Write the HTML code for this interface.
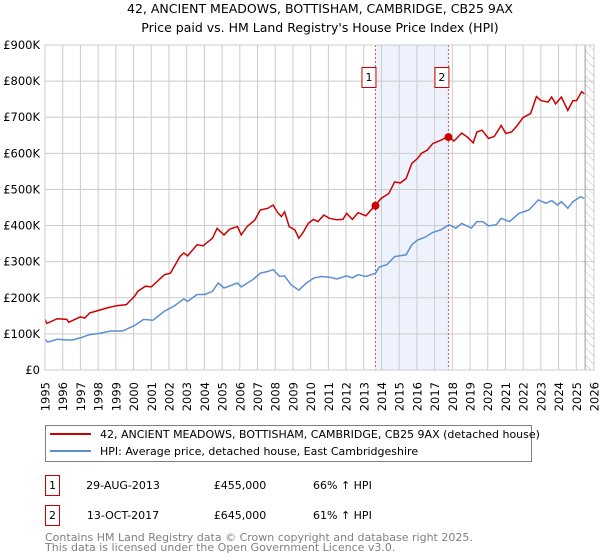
<!DOCTYPE html>
<html><head><meta charset="utf-8"><style>
body{margin:0;background:#fff;font-family:"DejaVu Sans","Liberation Sans",sans-serif;}
svg{display:block}
</style></head><body>
<svg id="chart" width="600" height="560" xmlns="http://www.w3.org/2000/svg">
<text x="320" y="13" text-anchor="middle" font-size="12.5" fill="#000">42, ANCIENT MEADOWS, BOTTISHAM, CAMBRIDGE, CB25 9AX</text>
<text x="320" y="32" text-anchor="middle" font-size="12.5" fill="#000">Price paid vs. HM Land Registry's House Price Index (HPI)</text>
<g id="plot"></g>
<g>
<rect x="45.5" y="425.5" width="486" height="36" fill="#fff" stroke="#808080"/>
<line x1="50" y1="434" x2="91" y2="434" stroke="#cc0000" stroke-width="2"/>
<text x="100" y="438" font-size="11">42, ANCIENT MEADOWS, BOTTISHAM, CAMBRIDGE, CB25 9AX (detached house)</text>
<line x1="50" y1="451" x2="91" y2="451" stroke="#5b8fd4" stroke-width="2"/>
<text x="100" y="455" font-size="11">HPI: Average price, detached house, East Cambridgeshire</text>
</g>
<g>
<rect x="45.5" y="475.5" width="14" height="20" fill="#fff" stroke="#cc0000"/>
<text x="52.5" y="489" font-size="11" text-anchor="middle">1</text>
<text x="123" y="489" font-size="11" text-anchor="middle">29-AUG-2013</text>
<text x="240" y="489" font-size="11" text-anchor="middle">£455,000</text>
<text x="313" y="489" font-size="11">66% ↑ HPI</text>
<rect x="45.5" y="505.5" width="14" height="20" fill="#fff" stroke="#cc0000"/>
<text x="52.5" y="519" font-size="11" text-anchor="middle">2</text>
<text x="123" y="519" font-size="11" text-anchor="middle">13-OCT-2017</text>
<text x="240" y="519" font-size="11" text-anchor="middle">£645,000</text>
<text x="313" y="519" font-size="11">61% ↑ HPI</text>
</g>
<text x="45" y="541" font-size="11" fill="#808080">Contains HM Land Registry data © Crown copyright and database right 2025.</text>
<text x="45" y="551" font-size="11" fill="#808080">This data is licensed under the Open Government Licence v3.0.</text>
</svg>
<script>
const yTicks=[0,100,200,300,400,500,600,700,800,900];
const yTickLabels=["£0","£100K","£200K","£300K","£400K","£500K","£600K","£700K","£800K","£900K"];
const xYears=[1995,1996,1997,1998,1999,2000,2001,2002,2003,2004,2005,2006,2007,2008,2009,2010,2011,2012,2013,2014,2015,2016,2017,2018,2019,2020,2021,2022,2023,2024,2025,2026];
const redDates=[1995.00,1995.11,1995.69,1996.23,1996.34,1996.99,1997.25,1997.53,1998.03,1998.51,1999.05,1999.59,2000.06,2000.24,2000.67,2001.00,2001.75,2002.08,2002.62,2002.84,2003.05,2003.59,2003.92,2004.46,2004.72,2005.11,2005.43,2005.87,2006.08,2006.41,2006.84,2007.16,2007.60,2007.88,2008.14,2008.35,2008.53,2008.79,2009.11,2009.33,2009.55,2009.87,2010.15,2010.41,2010.74,2011.06,2011.49,2011.82,2012.03,2012.36,2012.68,2013.12,2013.66,2013.98,2014.42,2014.74,2015.06,2015.39,2015.71,2016.04,2016.26,2016.58,2016.90,2017.34,2017.81,2018.09,2018.53,2018.85,2019.18,2019.39,2019.68,2020.04,2020.37,2020.76,2021.02,2021.34,2021.67,2021.99,2022.42,2022.75,2023.01,2023.40,2023.61,2023.83,2024.16,2024.52,2024.81,2025.02,2025.30,2025.45];
const redValues=[140,129,142,140,132,147,144,158,165,172,178,181,204,218,232,230,264,268,314,324,316,347,344,365,392,374,390,397,374,397,415,443,448,457,436,425,438,397,388,365,379,406,417,411,429,420,416,417,434,417,436,427,457,475,489,521,518,530,572,586,600,609,627,636,647,634,656,645,629,659,664,641,647,677,655,659,677,699,710,757,746,742,756,737,756,719,746,746,771,765];
const blueDates=[1995.00,1995.15,1995.69,1996.23,1996.56,1996.99,1997.53,1998.03,1998.72,1999.37,2000.06,2000.56,2001.10,2001.75,2002.29,2002.84,2003.05,2003.59,2004.03,2004.46,2004.78,2005.11,2005.87,2006.08,2006.73,2007.16,2007.60,2007.88,2008.25,2008.51,2008.90,2009.33,2009.76,2010.19,2010.63,2011.06,2011.49,2012.03,2012.36,2012.68,2013.12,2013.66,2013.87,2014.31,2014.74,2015.39,2015.71,2016.04,2016.47,2016.90,2017.34,2017.81,2018.20,2018.53,2019.07,2019.39,2019.72,2020.04,2020.48,2020.76,2021.23,2021.77,2022.32,2022.86,2023.29,2023.61,2023.94,2024.16,2024.52,2024.81,2025.24,2025.45];
const blueValues=[85,77,85,83,83,89,98,101,108,108,123,140,138,163,177,197,190,209,209,218,241,227,241,230,250,268,273,278,259,261,236,221,241,255,259,257,252,261,255,264,259,268,285,292,314,319,347,360,368,381,388,402,393,406,393,411,411,399,402,420,411,434,443,471,462,469,457,466,448,466,480,475];
const saleDates=[2013.66,2017.78];
const saleValues=[455,645];
const saleLabels=["1","2"];
const hatchStart=2025.5;

const NS="http://www.w3.org/2000/svg";
const L=45,R=594,T=45,B=370,x0=1995,x1=2026,vmax=900;
const X=v=>L+(v-x0)/(x1-x0)*(R-L);
const Y=v=>B-v/vmax*(B-T);
const g=document.getElementById('plot');
function el(tag,attrs,parent){const e=document.createElementNS(NS,tag);for(const k in attrs)e.setAttribute(k,attrs[k]);(parent||g).appendChild(e);return e;}
let sh=el('rect',{x:X(saleDates[0]),y:T,width:X(saleDates[1])-X(saleDates[0]),height:B-T,fill:'#eef2fc'});


const defs=el('defs',{});
const pat=el('pattern',{id:'hatch',width:6,height:6,patternUnits:'userSpaceOnUse',patternTransform:'rotate(-45)'},defs);
el('line',{x1:0,y1:0,x2:0,y2:6,stroke:'#bbb','stroke-width':1},pat);
let hr=el('rect',{x:X(hatchStart),y:T,width:R-X(hatchStart),height:B-T,fill:'url(#hatch)'});


xYears.forEach(yr=>{
  let ln=el('line',{x1:X(yr),y1:T,x2:X(yr),y2:B,stroke:'#cccccc','stroke-width':1});
  
  
  let t=el('text',{x:0,y:0,'font-size':11.5,'text-anchor':'end',transform:`translate(${X(yr)+4.5},${B+12}) rotate(-90)`});
  t.textContent=yr;
  
  
});
yTicks.forEach((v,i)=>{
  let ln=el('line',{x1:L,y1:Y(v),x2:R,y2:Y(v),stroke:'#cccccc','stroke-width':1});
  
  
  let t=el('text',{x:L-5,y:Y(v)+4,'font-size':11.5,'text-anchor':'end'});
  t.textContent=yTickLabels[i];
  
  
});
let hl=el('line',{x1:X(hatchStart),y1:T,x2:X(hatchStart),y2:B,stroke:'#999','stroke-width':1});


saleDates.forEach((d,i)=>{
  let ln=el('line',{x1:X(d),y1:T,x2:X(d),y2:B,stroke:'#e05050','stroke-width':1,'stroke-dasharray':'2,2'});
  
  
  let bx=el('rect',{x:X(d)-13.5,y:67.5,width:14,height:20,fill:'#fff',stroke:'#cc0000'});
  
  
  let t=el('text',{x:X(d)-6.5,y:81,'font-size':11,'text-anchor':'middle'});
  t.textContent=saleLabels[i];
  
  
});
function path(ds,vs){return ds.map((d,i)=>(i?'L':'M')+X(d).toFixed(1)+','+Y(vs[i]).toFixed(1)).join('');}
let bp=el('path',{d:path(blueDates,blueValues),fill:'none',stroke:'#5b8fd4','stroke-width':1.5});


let rp=el('path',{d:path(redDates,redValues),fill:'none',stroke:'#cc0000','stroke-width':1.5});


saleDates.forEach((d,i)=>{
  let c=el('circle',{cx:X(d),cy:Y(saleValues[i]),r:4,fill:'#cc0000'});
  
  
});
let fr=el('rect',{x:L,y:T,width:R-L,height:B-T,fill:'none',stroke:'#cccccc'});


</script>
</body></html>
